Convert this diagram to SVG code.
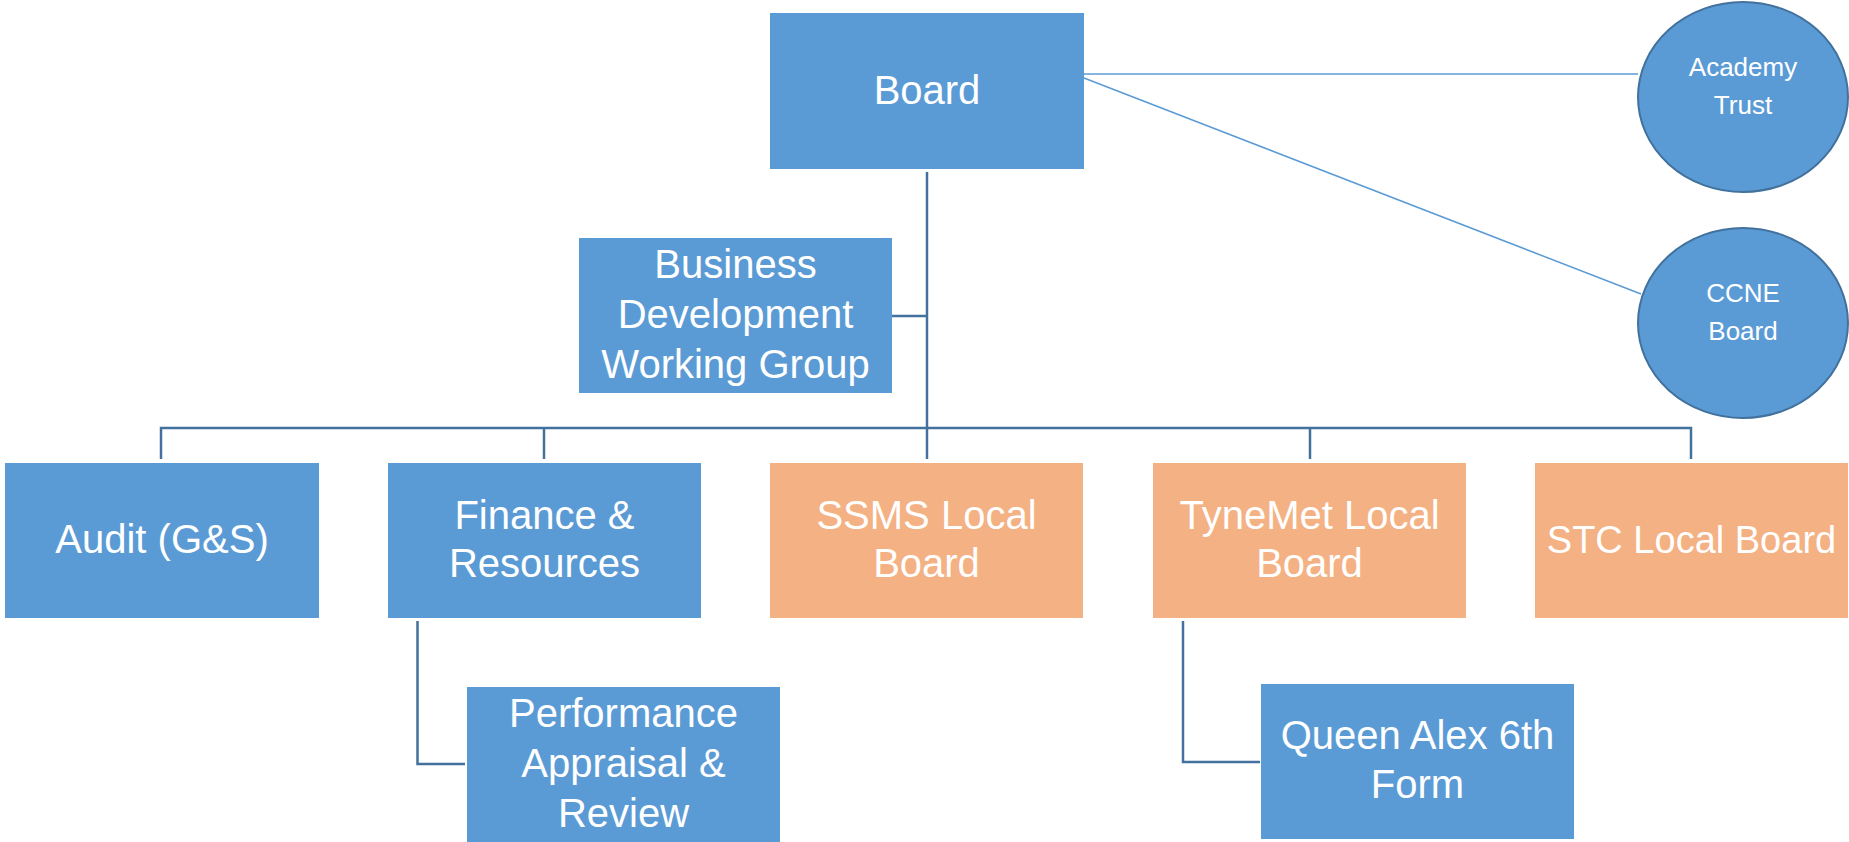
<svg xmlns="http://www.w3.org/2000/svg" width="1849" height="842" viewBox="0 0 1849 842">
<style>
.blue{fill:#5B9BD5}
.orange{fill:#F4B183}
.t{font-family:"Liberation Sans",Arial,sans-serif;font-size:40px;fill:#FFFFFF;text-anchor:middle}
.ts{font-family:"Liberation Sans",Arial,sans-serif;font-size:26px;fill:#FFFFFF;text-anchor:middle}
.conn{fill:none;stroke:#41719C;stroke-width:2.5}
.thin{fill:none;stroke:#5B9BD5;stroke-width:1.5}
.ell{fill:#5B9BD5;stroke:#41719C;stroke-width:2}
</style>
<rect width="1849" height="842" fill="#FFFFFF"/>
<g id="connectors">
<path class="thin" d="M1084 74 H1638"/>
<path class="thin" d="M1084 78 L1641 294"/>
<path class="conn" d="M927 172 V428"/>
<path class="conn" d="M892 316 H927"/>
<path class="conn" d="M161 459 V428 H1691 V459"/>
<path class="conn" d="M544 428 V459"/>
<path class="conn" d="M927 428 V459"/>
<path class="conn" d="M1310 428 V459"/>
<path class="conn" d="M417.5 621 V764 H465"/>
<path class="conn" d="M1183 621 V762 H1260"/>
</g>
<g id="board">
<rect class="blue" x="770" y="13" width="314" height="156"/>
<text class="t" x="927" y="104">Board</text>
</g>
<g id="academy-trust">
<ellipse class="ell" cx="1743" cy="97" rx="105" ry="95"/>
<text class="ts" x="1743" y="76">Academy</text>
<text class="ts" x="1743" y="114">Trust</text>
</g>
<g id="ccne-board">
<ellipse class="ell" cx="1743" cy="323" rx="105" ry="95"/>
<text class="ts" x="1743" y="302">CCNE</text>
<text class="ts" x="1743" y="340">Board</text>
</g>
<g id="bdwg">
<rect class="blue" x="579" y="238" width="313" height="155"/>
<text class="t" x="735.5" y="278">Business</text>
<text class="t" x="735.5" y="328">Development</text>
<text class="t" x="735.5" y="378">Working Group</text>
</g>
<g id="audit">
<rect class="blue" x="5" y="463" width="314" height="155"/>
<text class="t" x="162" y="553">Audit (G&amp;S)</text>
</g>
<g id="finance">
<rect class="blue" x="388" y="463" width="313" height="155"/>
<text class="t" x="544.5" y="529">Finance &amp;</text>
<text class="t" x="544.5" y="577">Resources</text>
</g>
<g id="ssms">
<rect class="orange" x="770" y="463" width="313" height="155"/>
<text class="t" x="926.5" y="529">SSMS Local</text>
<text class="t" x="926.5" y="577">Board</text>
</g>
<g id="tynemet">
<rect class="orange" x="1153" y="463" width="313" height="155"/>
<text class="t" x="1309.5" y="529">TyneMet Local</text>
<text class="t" x="1309.5" y="577">Board</text>
</g>
<g id="stc">
<rect class="orange" x="1535" y="463" width="313" height="155"/>
<text class="t" x="1691.5" y="553" style="font-size:38px">STC Local Board</text>
</g>
<g id="performance">
<rect class="blue" x="467" y="687" width="313" height="155"/>
<text class="t" x="623.5" y="727">Performance</text>
<text class="t" x="623.5" y="777">Appraisal &amp;</text>
<text class="t" x="623.5" y="827">Review</text>
</g>
<g id="queen-alex">
<rect class="blue" x="1261" y="684" width="313" height="155"/>
<text class="t" x="1417.5" y="749">Queen Alex 6th</text>
<text class="t" x="1417.5" y="798">Form</text>
</g>
</svg>
